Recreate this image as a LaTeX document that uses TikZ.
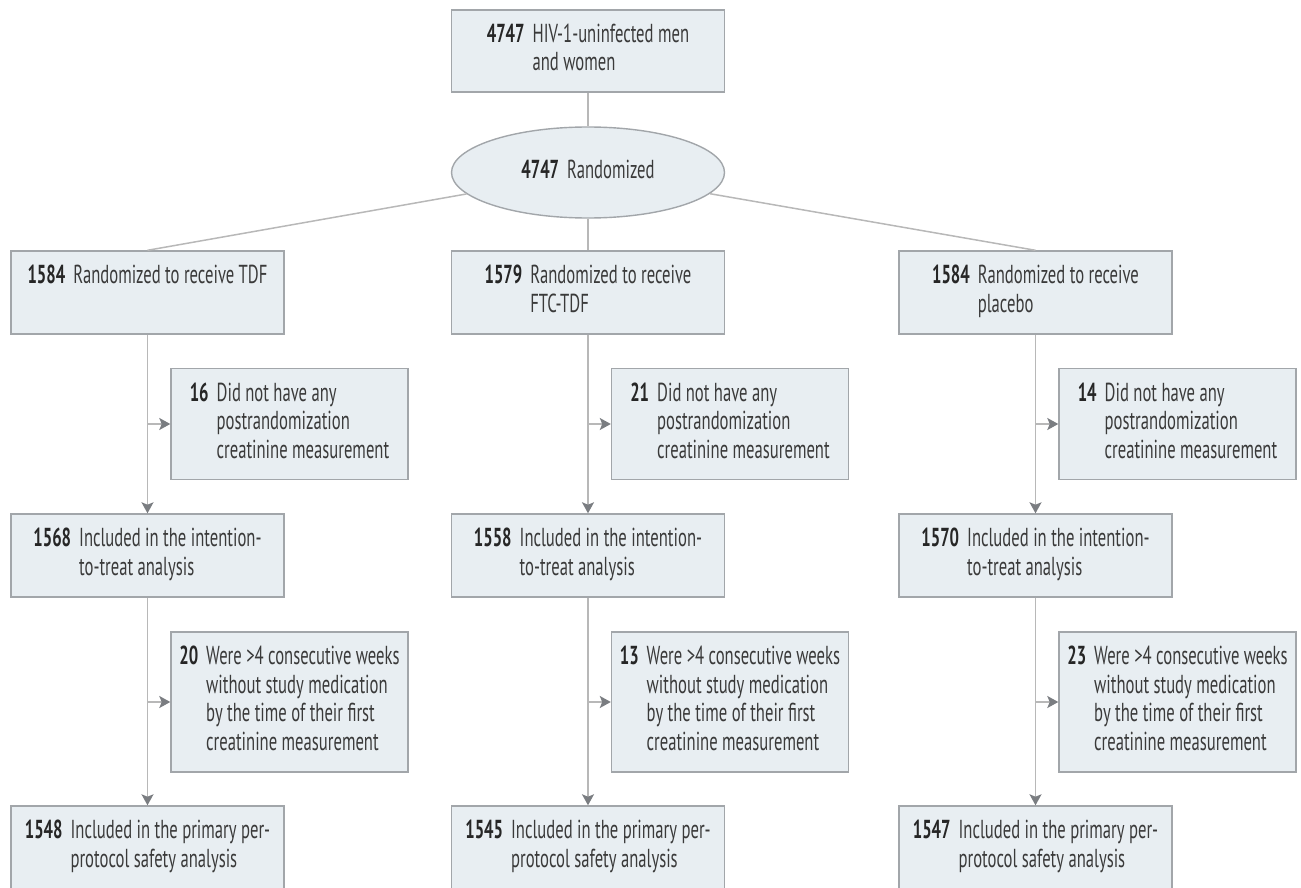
\documentclass[tikz,border=0pt]{standalone}
\usepackage{fontspec}
\setmainfont{PT Sans}[FakeStretch=0.64]
\usetikzlibrary{arrows.meta,shapes.geometric}
\definecolor{boxfill}{HTML}{E8EEF2}
\definecolor{boxline}{HTML}{A2A6AA}
\definecolor{linkgray}{HTML}{B8B8B8}
\definecolor{tipgray}{HTML}{7A7D81}
\definecolor{txtgray}{HTML}{3A3A3A}
\newcommand{\entry}[2]{\begin{tabular}{@{}l@{\hspace{4pt}}l@{}}\textbf{\color{black!85}#1} & #2\end{tabular}}
\tikzset{
    box/.style={draw=boxline, fill=boxfill, line width=0.7pt, inner sep=0pt,
        minimum width=136.5pt, minimum height=41.5pt, text=txtgray,
        font=\fontsize{13}{14.25}\selectfont},
    sidebox/.style={box, minimum width=118.5pt},
    link/.style={draw=linkgray, line width=0.75pt},
    arr/.style={link, -{Stealth[length=5.5pt, width=6pt, inset=1.2pt, color=tipgray]}}
}
\begin{document}
\begin{tikzpicture}[x=0.5pt, y=-0.5pt]
    \useasboundingbox (0,0) rectangle (1301,888);
    % top of the chart
    \node[box, minimum height=41pt] (enrol) at (588,51) {\entry{4747}{HIV-1-uninfected men\\ & and women}};
    \node[box, ellipse, minimum height=45.5pt] (rand) at (588,172.5) {\entry{4747}{Randomized}};
    \draw[link] (enrol) -- (rand);
    % one column per study arm
    \foreach \k/\cx/\na/\ta/\nb/\nc/\nd/\ne in {
        1/147.5/1584/{Randomized to receive TDF\\ & }/16/1568/20/1548,
        2/588/1579/{Randomized to receive\\ & FTC-TDF}/21/1558/13/1545,
        3/1035.5/1584/{Randomized to receive\\ & placebo}/14/1570/23/1547}
    {
        \node[box] (trt\k) at (\cx,292.5) {\entry{\na}{\ta}};
        \node[sidebox, minimum height=55.5pt] (excl\k) at (\cx+142,424) {\entry{\nb}{Did not have any\\ & postrandomization\\ & creatinine measurement}};
        \node[box] (itt\k) at (\cx,555.5) {\entry{\nc}{Included in the intention-\\ & to-treat analysis}};
        \node[sidebox, minimum height=70pt] (wk\k) at (\cx+142,702) {\entry{\nd}{Were >4 consecutive weeks\\ & without study medication\\ & by the time of their first\\ & creatinine measurement}};
        \node[box] (pp\k) at (\cx,847.5) {\entry{\ne}{Included in the primary per-\\ & protocol safety analysis}};
        \draw[link] (rand) -- (trt\k.north);
        \draw[arr] (trt\k) -- (itt\k);
        \draw[arr] (trt\k.south |- excl\k.west) -- (excl\k.west);
        \draw[arr] (itt\k) -- (pp\k);
        \draw[arr] (itt\k.south |- wk\k.west) -- (wk\k.west);
    }
\end{tikzpicture}
\end{document}
